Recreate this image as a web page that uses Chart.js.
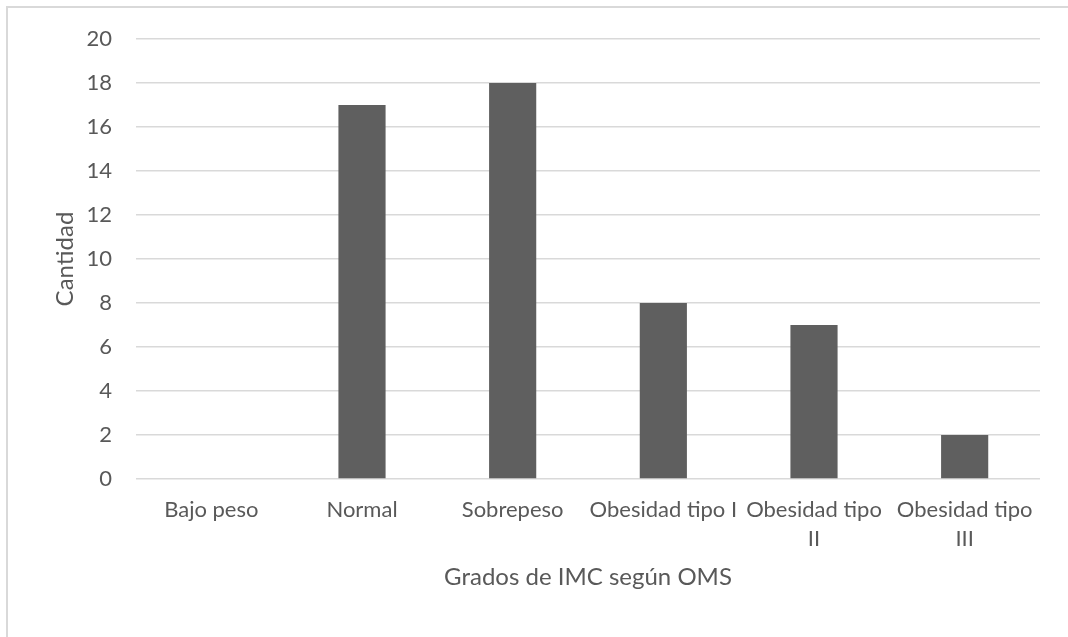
<!DOCTYPE html>
<html>
<head>
<meta charset="utf-8">
<script src="https://cdn.jsdelivr.net/npm/chart.js@4.4.1/dist/chart.umd.min.js"></script>
<style>
  html, body { margin: 0; padding: 0; background: #ffffff; }
  #wrap { width: 1068px; height: 637px; position: relative; }
</style>
</head>
<body>
<div id="wrap"><canvas id="c" width="1068" height="637"></canvas></div>
<script>
// Grados de IMC (OMS) y cantidad de personas en cada grado
const categorias = ['Bajo peso', 'Normal', 'Sobrepeso', 'Obesidad tipo I', ['Obesidad tipo', 'II'], ['Obesidad tipo', 'III']];
const cantidades = [0, 17, 18, 8, 7, 2];
const ejeY = { min: 0, max: 20, paso: 2 };

const FONT = 'Lato, "Open Sans", sans-serif';
const TEXT = '#595959';
const GRID = '#d9d9d9';

// Marco gris superior e izquierdo del área del gráfico
const marco = {
  id: 'marco',
  beforeDraw(chart) {
    const ctx = chart.ctx;
    ctx.save();
    ctx.strokeStyle = GRID;
    ctx.lineWidth = 2;
    ctx.beginPath();
    ctx.moveTo(7, chart.height + 5);
    ctx.lineTo(7, 7);
    ctx.lineTo(chart.width + 5, 7);
    ctx.stroke();
    ctx.restore();
  }
};

new Chart(document.getElementById('c'), {
  type: 'bar',
  data: {
    labels: categorias,
    datasets: [{
      label: 'Cantidad',
      data: cantidades,
      backgroundColor: '#5f5f5f',
      borderWidth: 0,
      categoryPercentage: 1,
      barPercentage: 0.313
    }]
  },
  options: {
    responsive: false,
    animation: false,
    layout: { padding: { top: 39, right: 28, left: 0, bottom: 0 } },
    plugins: { legend: { display: false }, tooltip: { enabled: false } },
    scales: {
      x: {
        grid: { display: false, drawTicks: false },
        border: { display: false },
        ticks: {
          color: TEXT,
          font: { family: FONT, size: 22, lineHeight: 1.32 },
          padding: 16,
          maxRotation: 0,
          autoSkip: false
        },
        title: {
          display: true,
          text: 'Grados de IMC según OMS',
          color: TEXT,
          font: { family: FONT, size: 24, lineHeight: 1.2 },
          padding: { top: 0, bottom: 45 }
        },
        afterFit(scale) { scale.height = 158; }
      },
      y: {
        min: ejeY.min,
        max: ejeY.max,
        ticks: {
          stepSize: ejeY.paso,
          color: TEXT,
          font: { family: FONT, size: 22 },
          padding: 24
        },
        grid: { color: GRID, lineWidth: 1.5, drawTicks: false },
        border: { display: false },
        title: {
          display: true,
          text: 'Cantidad',
          color: TEXT,
          font: { family: FONT, size: 24, lineHeight: 1.2 },
          padding: { top: 51, bottom: 0 }
        },
        afterFit(scale) { scale.width = 136; }
      }
    }
  },
  plugins: [marco]
});
</script>
</body>
</html>
